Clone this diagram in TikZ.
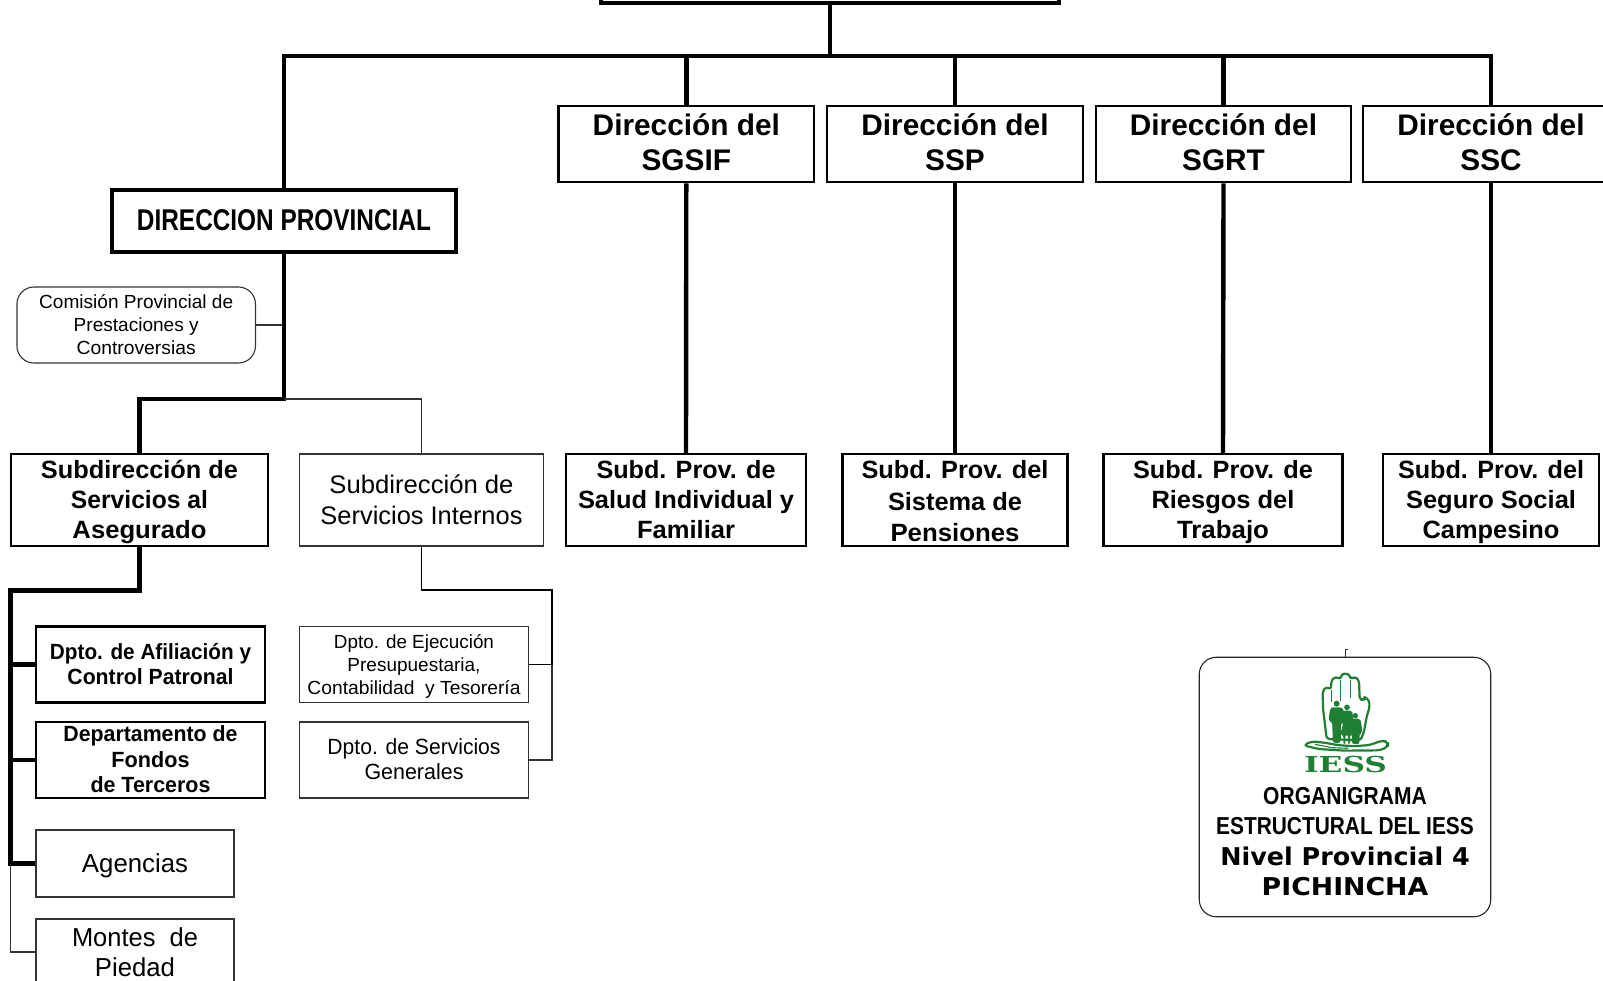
\documentclass[tikz,border=0pt]{standalone}
\usepackage{fontspec}
\usepackage{graphicx}
\setmainfont{Liberation Sans}
\newfontfamily\dvb{DejaVu Sans}
\newfontfamily\dvs{DejaVu Serif}
\newcommand{\fw}[2]{\resizebox{#1pt}{\height}{#2}}
\newcommand{\nd}[1]{\raisebox{0pt}[\height][0pt]{#1}}
\newcommand{\lift}[1]{\rule[-#1pt]{0pt}{0pt}}
\definecolor{iessgreen}{HTML}{1F7F33}
\definecolor{thingray}{HTML}{333333}
\tikzset{
  every node/.style={inner sep=0pt,align=center},
  dirbox/.style={draw,line width=2.4pt,font=\bfseries\fontsize{29.8}{34.8}\selectfont},
  subbox/.style={draw,line width=2.4pt,font=\bfseries\fontsize{25}{30}\selectfont},
  deptbold/.style={draw,line width=2.8pt,font=\bfseries\fontsize{22}{25}\selectfont},
  plainbox/.style={draw=thingray,line width=1.1pt},
  buslw/.style={line width=4.4pt},
  lowlw/.style={line width=5pt},
  thinlw/.style={line width=1.1pt,draw=thingray},
  handline/.style={draw=iessgreen,line width=1.2pt,line join=round,fill=white},
  folk/.style={fill=iessgreen,draw=none}
}
\begin{document}
\begin{tikzpicture}[x=1pt,y=-1pt]
\useasboundingbox (0,0) rectangle (1603,980);
% top level
\node[draw,line width=4pt,minimum width=458pt,minimum height=66pt] (top) at (830,-30) {};
\node[dirbox,minimum width=255.5pt,minimum height=76.5pt] (d1) at (686.3,144) {Dirección del\\SGSIF\lift{3.4}};
\node[dirbox,minimum width=255.5pt,minimum height=76.5pt] (d2) at (955,144) {Dirección del\\SSP\lift{3.4}};
\node[dirbox,minimum width=255pt,minimum height=76.5pt] (d3) at (1223.5,144) {Dirección del\\SGRT\lift{3.4}};
\node[dirbox,minimum width=256pt,minimum height=76.5pt] (d4) at (1491,144) {Dirección del\\SSC\lift{3.4}};
\node[draw,line width=4pt,minimum width=344pt,minimum height=62pt] (dp) at (284,221)
  {\bfseries\fontsize{30}{34}\selectfont\fw{294}{DIRECCION PROVINCIAL}\lift{2}};
\node[draw=thingray,line width=1.1pt,rounded corners=17pt,minimum width=238.5pt,minimum height=76pt,
  font=\fontsize{19}{23}\selectfont] (com) at (136.2,325)
  {\fw{194}{Comisión Provincial de}\\\fw{125}{Prestaciones y}\\\fw{119}{Controversias}};
% subdirecciones
\node[subbox,minimum width=257pt,minimum height=92pt] (sa) at (139.5,500)
  {\fw{197}{Subdirección de}\\\fw{137}{Servicios al}\\\nd{\fw{134}{Asegurado}}\lift{2}};
\node[plainbox,minimum width=243.5pt,minimum height=92pt,font=\fontsize{25.4}{30.5}\selectfont] (si) at (421.5,500)
  {\fw{184}{Subdirección de}\\\fw{202}{Servicios Internos}\lift{1}};
\node[subbox,minimum width=240pt,minimum height=92pt] (s1) at (686,500)
  {\fw{179}{Subd. Prov. de}\\\fw{216}{Salud Individual y}\\\fw{98}{Familiar}};
\node[subbox,minimum width=225pt,minimum height=92pt,font=\bfseries\fontsize{25}{31.5}\selectfont] (s2) at (955,500)
  {\rule{0pt}{20.5pt}\fw{187}{Subd. Prov. del}\\\fw{134}{Sistema de}\\\nd{\fw{129}{Pensiones}}};
\node[subbox,minimum width=239pt,minimum height=92pt] (s3) at (1223,500)
  {\fw{180}{Subd. Prov. de}\\\fw{143}{Riesgos del}\\\nd{\fw{92}{Trabajo}}\lift{2}};
\node[subbox,minimum width=216pt,minimum height=92pt] (s4) at (1491,500)
  {\fw{186}{Subd. Prov. del}\\\fw{170}{Seguro Social}\\\nd{\fw{137}{Campesino}}\lift{2}};
% departamentos
\node[deptbold,minimum width=229pt,minimum height=76pt] (af) at (150.5,664.5)
  {\fw{201}{Dpto. de Afiliación y}\\\fw{166}{Control Patronal}};
\node[deptbold,minimum width=229pt,minimum height=76pt,font=\bfseries\fontsize{22}{25.5}\selectfont] (ft) at (150.5,760)
  {\fw{174}{Departamento de}\\\fw{78}{Fondos}\\\fw{120}{de Terceros}\lift{1.5}};
\node[plainbox,minimum width=198pt,minimum height=67pt,font=\fontsize{26}{30}\selectfont] (ag) at (135,863.5)
  {\nd{\fw{106}{Agencias}}};
\node[plainbox,minimum width=198pt,minimum height=66pt,font=\fontsize{26}{30}\selectfont] (mp) at (135,952)
  {\fw{126}{Montes\ \ de}\\\fw{80}{Piedad}};
\node[plainbox,minimum width=228.5pt,minimum height=76pt,font=\fontsize{19}{22.7}\selectfont] (ej) at (414,664.5)
  {\fw{160}{Dpto. de Ejecución}\\\fw{133}{Presupuestaria,}\\\nd{\fw{213}{Contabilidad\ \ y Tesorería}}};
\node[plainbox,minimum width=228.5pt,minimum height=76pt,font=\fontsize{22}{24.7}\selectfont] (sg) at (414,760)
  {\fw{173}{Dpto. de Servicios}\\\fw{99}{Generales}\lift{2}};
% connectors
\coordinate (bus) at (830,56);
\coordinate (j1) at (284,399);
\coordinate (r1) at (10.5,590);
\coordinate (r2) at (552,590);
\draw[buslw] (top.south) -- (bus);
\draw[buslw] (dp.north) |- (bus) -- (bus -| d4.north) -- (d4.north);
\foreach \n in {d1,d2,d3} {\draw[buslw] (\n.north) -- (\n.north |- bus);}
\draw[buslw] (d1.south) -- (s1.north);
\draw[buslw] (d2.south) -- (s2.north);
\draw[buslw] (d3.south) -- (s3.north);
\draw[buslw] (d4.south) -- (s4.north);
\draw[thinlw] (com.east) -- (com.east -| dp.south);
\draw[buslw,line width=4.6pt] (dp.south) -- (j1) -| (sa.north);
\draw[thinlw] (j1) -| (si.north);
\draw[lowlw] (sa.south) |- (r1) -- (r1 |- ag.west) -- (ag.west);
\draw[lowlw,line width=4.4pt] (af.west) -- (af.west -| r1);
\draw[lowlw,line width=4.4pt] (ft.west) -- (ft.west -| r1);
\draw[thinlw] (r1 |- ag.west) |- (mp.west);
\draw[thinlw,draw=black] (si.south) |- (r2) |- (ej.east);
\draw[thinlw] (r2 |- ej.east) |- (sg.east);
% IESS panel
\node[draw=black!85,line width=1.1pt,rounded corners=17pt,minimum width=291.5pt,minimum height=259.5pt] (panel) at (1345,787) {};
\coordinate (tick) at (1348,649);
\draw[thinlw,line width=0.9pt] (panel.north) -- (panel.north |- tick) -- (tick);
\node[anchor=center,font=\bfseries\fontsize{24.5}{30}\selectfont] (title) at (1345,842)
  {\fw{163.6}{ORGANIGRAMA}\\\fw{257.6}{ESTRUCTURAL DEL IESS}\\[1pt]
   {\dvb\bfseries\fw{249.4}{Nivel Provincial 4}}\\{\dvb\bfseries\fw{166.6}{PICHINCHA}}};
% logo
\begin{scope}[shift={(1295pt,-665pt)},x=0.3333pt,y=-0.3333pt]
  \path[handline,line width=2.2pt,rounded corners=3pt] (95,222) -- (84,130) -- (83,78) -- (94,65) -- (108,74)
    -- (109,46) -- (122,34) -- (136,44) -- (138,30) -- (150,24) -- (165,30) -- (167,44) -- (179,34) -- (192,46)
    -- (194,104) -- (207,104) -- (210,96) -- (222,105) -- (224,125) -- (215,155) -- (207,200) -- (197,226) -- cycle;
  \path[draw=iessgreen,line width=1.5pt] (109,74) -- (109,112) (137,44) -- (137,108) (166,44) -- (166,100);
  % figures
  \fill[folk] (125,116) circle (9);
  \fill[folk,rounded corners=3pt] (106,127) -- (144,127) -- (150,168) -- (139,170) -- (137,234) -- (113,234) -- (112,170) -- (100,168) -- cycle;
  \fill[folk] (156,127) circle (8.5);
  \fill[folk,rounded corners=2pt] (140,137) -- (172,137) -- (175,168) -- (167,172) -- (174,210) -- (165,210) -- (165,237) -- (159,237) -- (159,210) -- (151,210) -- (151,237) -- (145,237) -- (145,210) -- (136,210) -- (145,172) -- (136,168) -- cycle;
  \fill[folk] (181,152) circle (8);
  \fill[folk,rounded corners=2pt] (166,161) -- (196,161) -- (203,202) -- (194,205) -- (193,237) -- (171,237) -- (170,205) -- (160,202) -- cycle;
  % open hand
  \path[handline,line width=2.2pt,rounded corners=4pt] (25,241) -- (50,229) -- (95,234) -- (125,240) -- (175,244) -- (225,240)
    -- (262,226) -- (280,232) -- (278,246) -- (255,256) -- (150,257) -- (70,252) -- cycle;
  \path[draw=iessgreen,line width=1.1pt] (60,238) -- (110,248) -- (160,250);
\end{scope}
\node[text=iessgreen,font=\dvs\bfseries\fontsize{22}{22}\selectfont] (iess) at (1345.5,764) {\fw{83}{IESS}};
\end{tikzpicture}
\end{document}
